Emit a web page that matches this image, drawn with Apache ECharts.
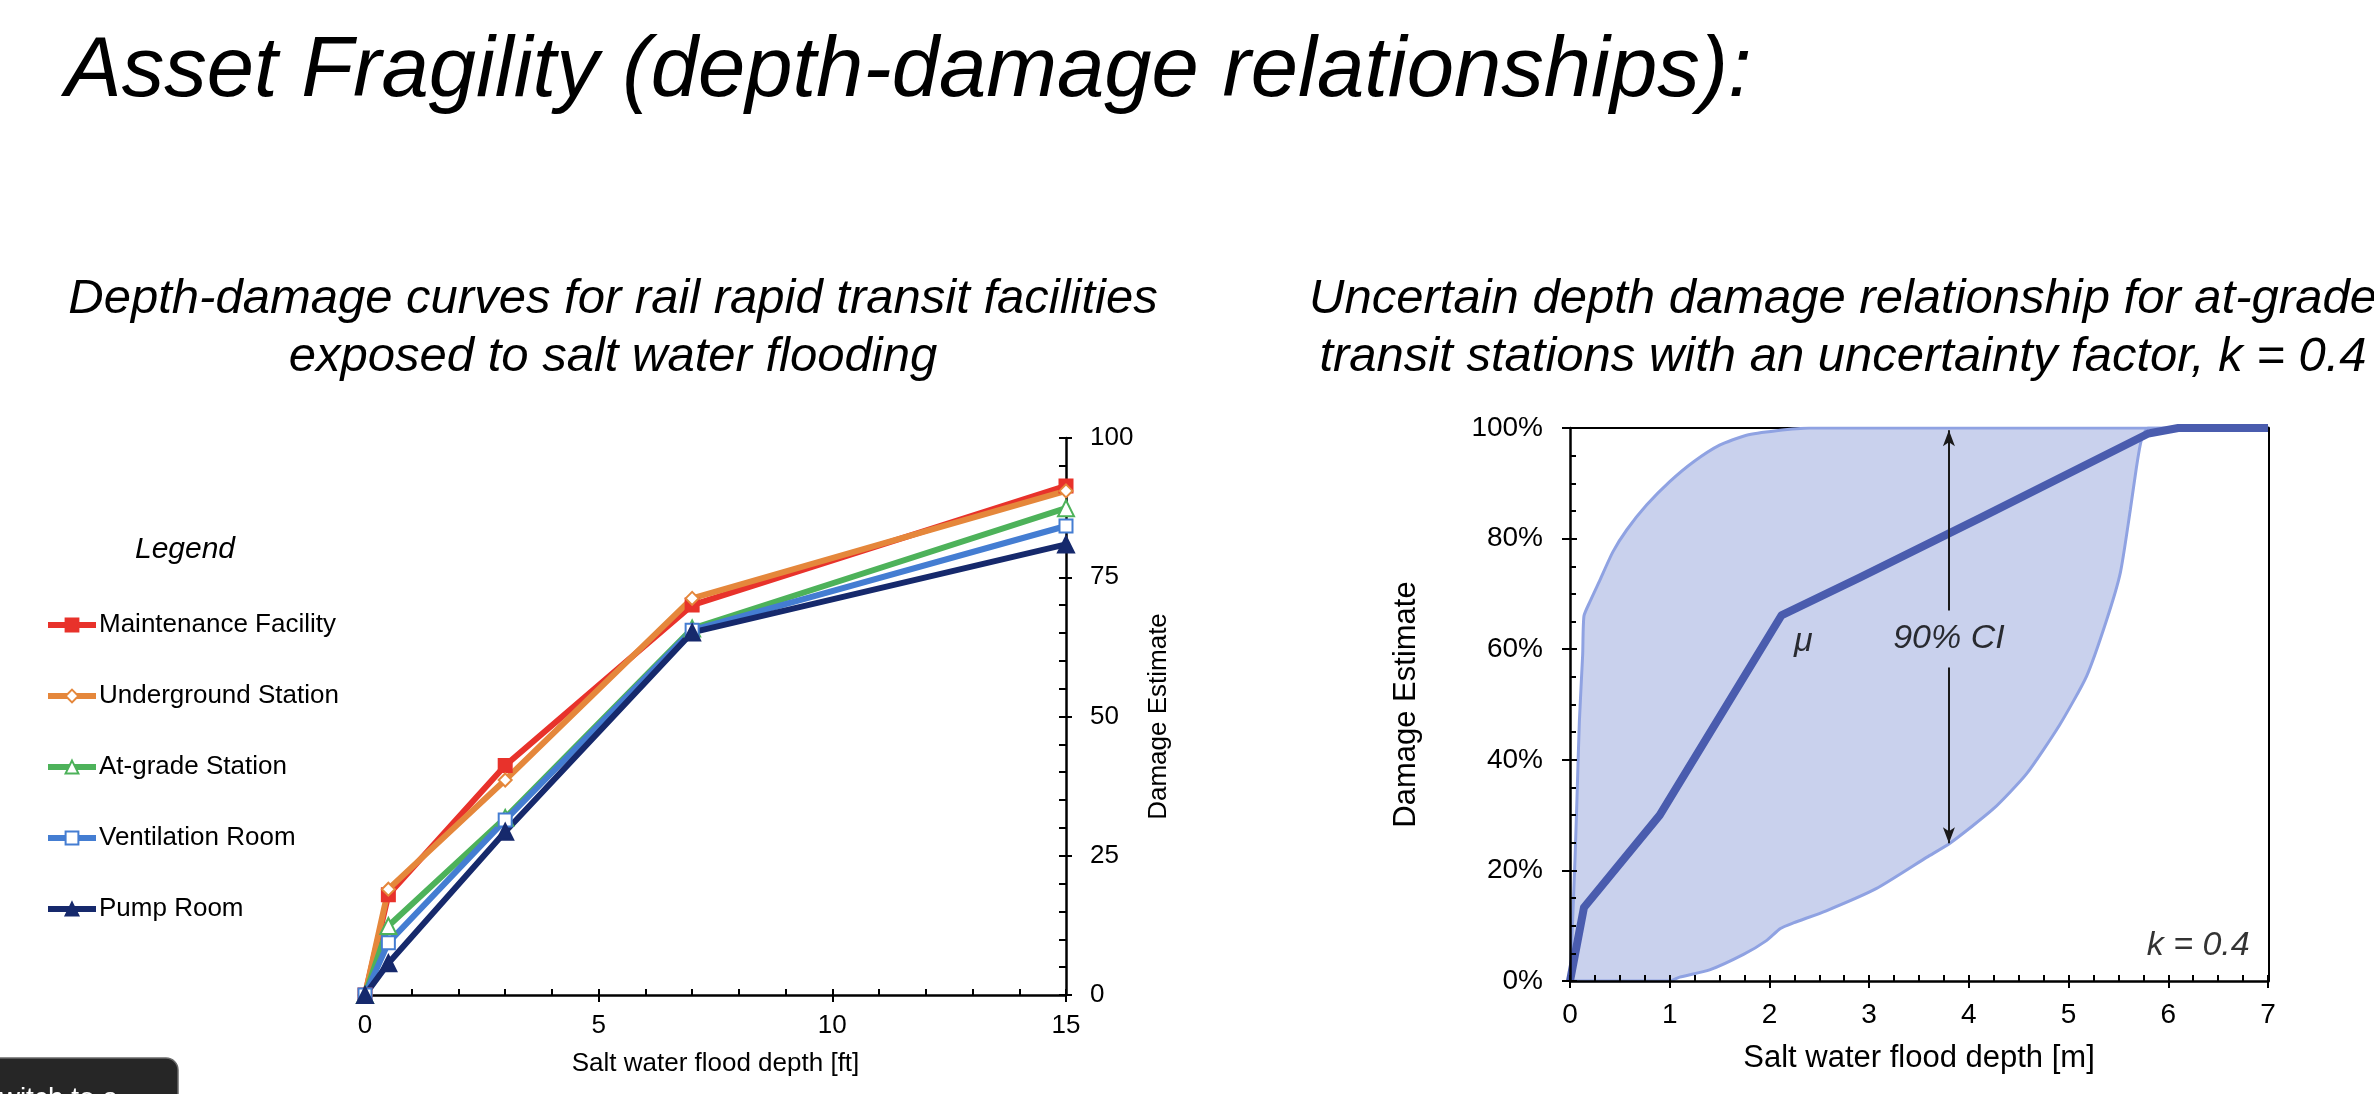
<!DOCTYPE html>
<html lang="en" style="height: 100%">

<head>
  <meta charset="utf-8">
</head>

<body style="height: 100%; margin: 0; background-color: #ffffff">
  <div id="container" style="height: 100%"></div>

  <script type="text/javascript" src="https://cdn.jsdelivr.net/npm/echarts@6/dist/echarts.min.js"></script>

  <script type="text/javascript">
    //-------- left chart: rail rapid transit facilities (depth in ft) --------
    var depthFt = [0, 0.5, 3, 7, 15];
    var facilityNames = ['Maintenance Facility', 'Underground Station', 'At-grade Station', 'Ventilation Room', 'Pump Room'];
    var maintenanceDmg = [0, 18.0, 41.2, 70.0, 91.4];
    var undergroundDmg = [0, 19.0, 38.6, 71.2, 90.5];
    var atGradeDmg = [0, 12.4, 31.8, 65.8, 87.4];
    var ventilationDmg = [0, 9.4, 31.4, 65.5, 84.2];
    var pumpRoomDmg = [0, 5.7, 29.3, 65.1, 80.9];

    //-------- right chart: at-grade station, uncertainty k = 0.4 (depth in m) --------
    var meanDepth = [0, 0.14, 0.9, 2.12, 2.91, 4.11, 5.8, 6.1, 7];
    var meanDamage = [0, 13.3, 30, 66.1, 73, 83.7, 99, 100, 100];

    var upperDepth = [0, 0.02, 0.05, 0.07, 0.094, 0.127, 0.14, 0.2, 0.3, 0.43, 0.57, 0.77, 1.0, 1.24, 1.5, 1.77, 2.07, 2.4, 7];
    var upperDamage = [0, 8, 22, 33, 47, 59, 66, 68.6, 72.5, 77.6, 81.6, 86.1, 90.3, 93.9, 96.9, 98.7, 99.5, 100, 100];

    var lowerDepth = [0, 1.0, 1.1, 1.4, 1.74, 1.97, 2.11, 2.24, 2.57, 3.07, 3.58, 3.81, 4.25, 4.58, 4.91, 5.18, 5.38, 5.52, 5.62, 5.68, 5.73, 5.8, 7];
    var lowerDamage = [0, 0, 0.7, 2.0, 4.8, 7.3, 9.5, 10.5, 12.7, 16.7, 22.4, 24.9, 31.2, 37.5, 46.3, 55.1, 65.2, 73.9, 85.3, 92.8, 97.8, 100, 100];

    // annotations inside the right chart
    var noteDepth = [2.34, 3.8, 6.3];
    var noteDamage = [61.4, 62, 6.5];
    var noteText = ['μ', '90% CI', 'k = 0.4'];
    var ciArrowDepth = 3.8;
    var ciArrowUp = [67.0, 99.6];     // from, to
    var ciArrowDown = [56.7, 24.9];   // from, to

    var FONT = 'Liberation Sans, Arial, Helvetica, sans-serif';

    function zip(xs, ys) {
      return xs.map(function (x, i) { return [x, ys[i]]; });
    }

    // line series of the left chart
    function facilityLine(name, values, color, symbol, hollow) {
      return {
        name: name,
        type: 'line',
        xAxisIndex: 0,
        yAxisIndex: 0,
        data: zip(depthFt, values),
        symbol: symbol,
        symbolSize: symbol === 'triangle' ? 16 : 13,
        showAllSymbol: true,
        lineStyle: { color: color, width: 6 },
        itemStyle: {
          color: hollow ? '#ffffff' : color,
          borderColor: color,
          borderWidth: 2
        },
        emphasis: { disabled: true },
        z: 3
      };
    }

    var dom = document.getElementById('container');
    var myChart = echarts.init(dom, null, { renderer: 'canvas' });

    var blackLine = { color: '#000', width: 2.5 };
    var tickLine = { color: '#000', width: 2 };

    var option = {
      animation: false,
      textStyle: { fontFamily: FONT },
      title: [
        {
          text: 'Asset Fragility (depth-damage relationships):',
          left: 60,
          top: 25,
          textStyle: { fontFamily: FONT, fontSize: 85, fontStyle: 'italic', fontWeight: 'normal', color: '#000' }
        },
        {
          text: 'Depth-damage curves for rail rapid transit facilities\nexposed to salt water flooding',
          left: 608,
          top: 265,
          textAlign: 'center',
          textStyle: { fontFamily: FONT, fontSize: 49, lineHeight: 58, fontStyle: 'italic', fontWeight: 'normal', color: '#000' }
        },
        {
          text: 'Uncertain depth damage relationship for at-grade\ntransit stations with an uncertainty factor, k = 0.4',
          left: 1838,
          top: 265,
          textAlign: 'center',
          textStyle: { fontFamily: FONT, fontSize: 49, lineHeight: 58, fontStyle: 'italic', fontWeight: 'normal', color: '#000' }
        },
        {
          text: 'Legend',
          left: 180,
          top: 530,
          textAlign: 'center',
          textStyle: { fontFamily: FONT, fontSize: 30, fontStyle: 'italic', fontWeight: 'normal', color: '#000' }
        }
      ],
      legend: {
        orient: 'vertical',
        left: 40,
        top: 605,
        itemWidth: 48,
        itemHeight: 16,
        itemGap: 41,
        selectedMode: false,
        data: facilityNames,
        lineStyle: { width: 6 },
        textStyle: { fontFamily: FONT, fontSize: 26, lineHeight: 30, color: '#000', padding: [0, 0, 0, -2] }
      },
      grid: [
        { left: 365, top: 438, width: 701, height: 557 },
        { left: 1570, top: 428, width: 698, height: 553 }
      ],
      xAxis: [
        {
          // left chart, labelled axis
          gridIndex: 0, type: 'value', min: 0, max: 15, interval: 5, position: 'bottom',
          name: 'Salt water flood depth [ft]', nameLocation: 'middle', nameGap: 56,
          nameTextStyle: { fontFamily: FONT, fontSize: 26, color: '#000' },
          axisLine: { onZero: false, lineStyle: blackLine },
          axisTick: { inside: false, length: 7, lineStyle: tickLine },
          axisLabel: { fontSize: 26, color: '#000', margin: 18 },
          splitLine: { show: false }
        },
        {
          // left chart, inner ticks
          gridIndex: 0, type: 'value', min: 0, max: 15, interval: 5, position: 'bottom',
          axisLine: { show: false, onZero: false },
          axisTick: { inside: true, length: 6, lineStyle: tickLine },
          minorTick: { show: true, splitNumber: 5, length: 6, lineStyle: tickLine },
          axisLabel: { show: false },
          splitLine: { show: false }
        },
        {
          // right chart, labelled axis
          gridIndex: 1, type: 'value', min: 0, max: 7, interval: 1, position: 'bottom', z: 10,
          name: 'Salt water flood depth [m]', nameLocation: 'middle', nameGap: 62,
          nameTextStyle: { fontFamily: FONT, fontSize: 31, color: '#000' },
          axisLine: { onZero: false, lineStyle: blackLine },
          axisTick: { inside: false, length: 7, lineStyle: tickLine },
          axisLabel: { fontSize: 28, color: '#000', margin: 20 },
          splitLine: { show: false }
        },
        {
          // right chart, inner ticks
          gridIndex: 1, type: 'value', min: 0, max: 7, interval: 1, position: 'bottom', z: 10,
          axisLine: { show: false, onZero: false },
          axisTick: { inside: true, length: 6, lineStyle: tickLine },
          minorTick: { show: true, splitNumber: 4, length: 6, lineStyle: tickLine },
          axisLabel: { show: false },
          splitLine: { show: false }
        },
        {
          // right chart, top frame
          gridIndex: 1, type: 'value', min: 0, max: 7, position: 'top',
          axisLine: { onZero: false, lineStyle: { color: '#000', width: 2 } },
          axisTick: { show: false },
          axisLabel: { show: false },
          splitLine: { show: false }
        }
      ],
      yAxis: [
        {
          gridIndex: 0, type: 'value', min: 0, max: 100, interval: 25, position: 'right',
          name: 'Damage Estimate', nameLocation: 'middle', nameGap: 80,
          nameTextStyle: { fontFamily: FONT, fontSize: 26, color: '#000' },
          axisLine: { onZero: false, lineStyle: blackLine },
          axisTick: { inside: false, length: 6, lineStyle: tickLine },
          axisLabel: { fontSize: 26, color: '#000', margin: 24 },
          splitLine: { show: false }
        },
        {
          gridIndex: 0, type: 'value', min: 0, max: 100, interval: 25, position: 'right',
          axisLine: { show: false, onZero: false },
          axisTick: { inside: true, length: 7, lineStyle: tickLine },
          minorTick: { show: true, splitNumber: 5, length: 7, lineStyle: tickLine },
          axisLabel: { show: false },
          splitLine: { show: false }
        },
        {
          gridIndex: 1, type: 'value', min: 0, max: 100, interval: 20, position: 'left', z: 10,
          name: 'Damage Estimate', nameLocation: 'middle', nameGap: 148,
          nameTextStyle: { fontFamily: FONT, fontSize: 31, color: '#000' },
          axisLine: { onZero: false, lineStyle: blackLine },
          axisTick: { inside: false, length: 8, lineStyle: tickLine },
          axisLabel: { fontSize: 28, color: '#000', margin: 27, formatter: '{value}%' },
          splitLine: { show: false }
        },
        {
          gridIndex: 1, type: 'value', min: 0, max: 100, interval: 20, position: 'left', z: 10,
          axisLine: { show: false, onZero: false },
          axisTick: { inside: true, length: 7, lineStyle: tickLine },
          minorTick: { show: true, splitNumber: 4, length: 6, lineStyle: tickLine },
          axisLabel: { show: false },
          splitLine: { show: false }
        },
        {
          // right chart, right frame
          gridIndex: 1, type: 'value', min: 0, max: 100, position: 'right',
          axisLine: { onZero: false, lineStyle: { color: '#000', width: 3 } },
          axisTick: { show: false },
          axisLabel: { show: false },
          splitLine: { show: false }
        }
      ],
      series: [
        facilityLine(facilityNames[0], maintenanceDmg, '#e8322b', 'rect', false),
        facilityLine(facilityNames[1], undergroundDmg, '#e5873b', 'diamond', true),
        facilityLine(facilityNames[2], atGradeDmg, '#4db25a', 'triangle', true),
        facilityLine(facilityNames[3], ventilationDmg, '#447dd2', 'rect', true),
        facilityLine(facilityNames[4], pumpRoomDmg, '#16296c', 'triangle', false),

        // 90% CI band: upper bound filled down to the axis ...
        {
          name: 'upper', type: 'line', xAxisIndex: 2, yAxisIndex: 2,
          data: zip(upperDepth, upperDamage),
          symbol: 'none', smooth: 0.2,
          lineStyle: { color: '#8fa2e2', width: 3 },
          areaStyle: { color: '#c9d1ed', opacity: 1 },
          silent: true, z: 2
        },
        // ... lower bound masks the part under it in white
        {
          name: 'lower', type: 'line', xAxisIndex: 2, yAxisIndex: 2,
          data: zip(lowerDepth, lowerDamage),
          symbol: 'none', smooth: 0.2,
          lineStyle: { color: '#8fa2e2', width: 3 },
          areaStyle: { color: '#ffffff', opacity: 1 },
          silent: true, z: 3
        },
        {
          name: 'mean', type: 'line', xAxisIndex: 2, yAxisIndex: 2,
          data: zip(meanDepth, meanDamage),
          symbol: 'none',
          lineStyle: { color: '#4a5cae', width: 8, join: 'round' },
          silent: true, z: 4
        },
        {
          name: 'notes', type: 'scatter', xAxisIndex: 2, yAxisIndex: 2,
          symbolSize: 0,
          data: noteDepth.map(function (x, i) { return [x, noteDamage[i], noteText[i]]; }),
          label: {
            show: true, position: 'inside',
            formatter: function (p) { return p.value[2]; },
            fontFamily: FONT, fontSize: 34, fontStyle: 'italic', color: '#000',
            textBorderWidth: 0
          },
          markLine: {
            silent: true,
            symbol: ['none', 'arrow'],
            symbolSize: [9, 16],
            label: { show: false },
            lineStyle: { color: '#1a1a1a', width: 2, type: 'solid' },
            data: [
              [{ coord: [ciArrowDepth, ciArrowUp[0]] }, { coord: [ciArrowDepth, ciArrowUp[1]] }],
              [{ coord: [ciArrowDepth, ciArrowDown[0]] }, { coord: [ciArrowDepth, ciArrowDown[1]] }]
            ]
          },
          silent: true, z: 5
        }
      ],
      graphic: [
        {
          type: 'rect',
          shape: { x: -20, y: 1058, width: 198, height: 70, r: 12 },
          style: { fill: '#262626', stroke: '#6a6a6a', lineWidth: 1.5 },
          z: 20
        },
        {
          type: 'text',
          style: { text: 'Switch to a', x: -19, y: 1085, fill: '#ffffff', fontSize: 28, fontFamily: FONT },
          z: 21
        }
      ]
    };

    myChart.setOption(option);
    window.addEventListener('resize', myChart.resize);
  </script>
</body>

</html>
